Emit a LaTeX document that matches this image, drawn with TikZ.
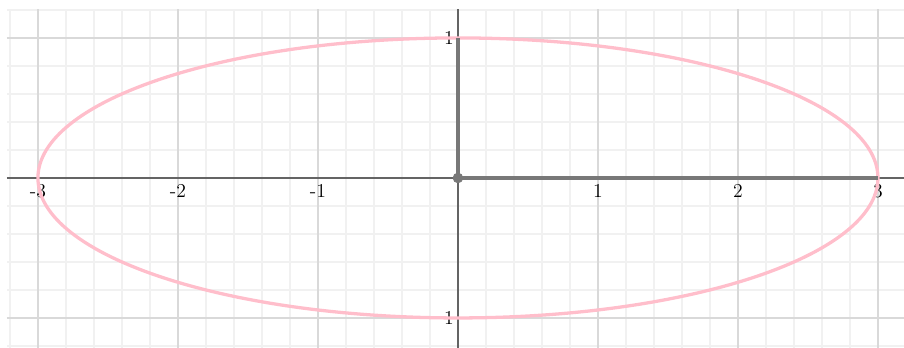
\documentclass[tikz,border=0pt]{standalone}
\usepackage{tikz}
\usetikzlibrary{calc}
\usepackage{xcolor}
\definecolor{ellpink}{RGB}{255,190,203}
\definecolor{axisgray}{RGB}{100,100,100}
\definecolor{seggray}{RGB}{120,120,120}

\begin{document}
\begin{tikzpicture}[x=3cm, y=3cm, every node/.style={font=\large, inner sep=1pt},
    minorgrid/.style={gray!11, line width=0.7pt},
    majorgrid/.style={gray!30, line width=0.9pt},
    axisline/.style={axisgray, line width=1.1pt},
    ticklabel/.style={text=black}]
  \useasboundingbox (-3.271,-1.214) rectangle (3.186,1.271);
  % grid
  \draw[minorgrid, step=0.2] (-3.221,-1.214) grid (3.186,1.207);
  \draw[majorgrid, step=1] (-3.221,-1.214) grid (3.186,1.207);
  % tick labels
  \foreach \x in {-3,-2,-1,1,2,3}
    \node[ticklabel, anchor=north] (xl\x) at (\x,-0.03) {\x};
  \node[ticklabel, anchor=east] (ytop) at (-0.015,1) {1};
  \node[ticklabel, anchor=east] (ybot) at (-0.015,-1) {1};
  % axes
  \draw[axisline] (-3.221,0) -- (3.186,0);
  \draw[axisline] (0,-1.214) -- (0,1.207);
  % ellipse
  \draw[ellpink, line width=2pt] (0,0) ellipse [x radius=3, y radius=1];
  % semi-axes
  \coordinate (O) at (0,0);
  \coordinate (A) at (3,0);
  \coordinate (B) at (0,1);
  \draw[seggray, line width=2.6pt] (O) -- (A);
  \draw[seggray, line width=2.6pt] (O) -- (B);
  \filldraw[seggray] (O) circle (3pt);
\end{tikzpicture}
\end{document}
